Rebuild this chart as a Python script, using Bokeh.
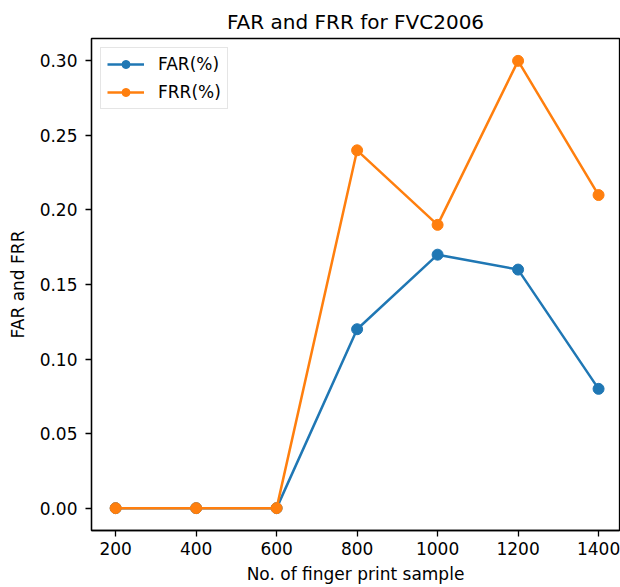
from bokeh.plotting import figure
from bokeh.models import FixedTicker, PrintfTickFormatter, Range1d
from bokeh.embed import file_html
from bokeh.resources import INLINE

samples = [200, 400, 600, 800, 1000, 1200, 1400]
far = [0.0, 0.0, 0.0, 0.12, 0.17, 0.16, 0.08]
frr = [0.0, 0.0, 0.0, 0.24, 0.19, 0.30, 0.21]
x_ticks = [200, 400, 600, 800, 1000, 1200, 1400]
y_ticks = [0.0, 0.05, 0.10, 0.15, 0.20, 0.25, 0.30]

FONT = "DejaVu Sans"

p = figure(
    frame_width=528, frame_height=492,
    min_border_left=91, min_border_right=1, min_border_top=38, min_border_bottom=57,
    x_range=Range1d(140, 1452), y_range=Range1d(-0.015, 0.315),
    output_backend="svg", toolbar_location=None,
    title="FAR and FRR for FVC2006",
)

p.title.text_font = FONT
p.title.text_font_size = "20px"
p.title.text_font_style = "normal"
p.title.align = "center"
p.title.text_color = "#000000"

p.xgrid.visible = False
p.ygrid.visible = False
p.outline_line_color = "#000000"
p.outline_line_width = 1.3

for ax in (p.xaxis[0], p.yaxis[0]):
    ax.axis_line_color = "#000000"
    ax.axis_line_width = 1.3
    ax.major_tick_line_color = "#000000"
    ax.major_tick_line_width = 1.3
    ax.major_tick_out = 6
    ax.major_tick_in = 0
    ax.minor_tick_out = 0
    ax.minor_tick_in = 0
    ax.major_label_text_font = FONT
    ax.major_label_text_font_size = "17px"
    ax.major_label_text_color = "#000000"
    ax.axis_label_text_font = FONT
    ax.axis_label_text_font_size = "17px"
    ax.axis_label_text_font_style = "normal"
    ax.axis_label_text_color = "#000000"

p.xaxis.ticker = FixedTicker(ticks=x_ticks)
p.yaxis.ticker = FixedTicker(ticks=y_ticks)
p.yaxis.formatter = PrintfTickFormatter(format="%.2f")
p.xaxis.axis_label = "No. of finger print sample"
p.yaxis.axis_label = "FAR and FRR"
p.xaxis.major_label_standoff = 5
p.yaxis.major_label_standoff = 8
p.xaxis.axis_label_standoff = 6
p.yaxis.axis_label_standoff = 9

blue = "#1f77b4"
orange = "#ff7f0e"

p.line(samples, far, line_color=blue, line_width=2.5, legend_label="FAR(%)")
p.scatter(samples, far, size=11, fill_color=blue, line_color=blue, legend_label="FAR(%)")
p.line(samples, frr, line_color=orange, line_width=2.5, legend_label="FRR(%)")
p.scatter(samples, frr, size=11, fill_color=orange, line_color=orange, legend_label="FRR(%)")

lg = p.legend[0]
lg.location = "top_left"
lg.margin = 9
lg.padding = 6
lg.spacing = 8
lg.glyph_width = 37
lg.glyph_height = 20
lg.label_standoff = 14
lg.label_text_font = FONT
lg.label_text_font_size = "17px"
lg.label_text_color = "#000000"
lg.border_line_color = "#cccccc"
lg.border_line_width = 1
lg.background_fill_alpha = 0.8

open("out.html", "w").write(file_html(p, INLINE))
